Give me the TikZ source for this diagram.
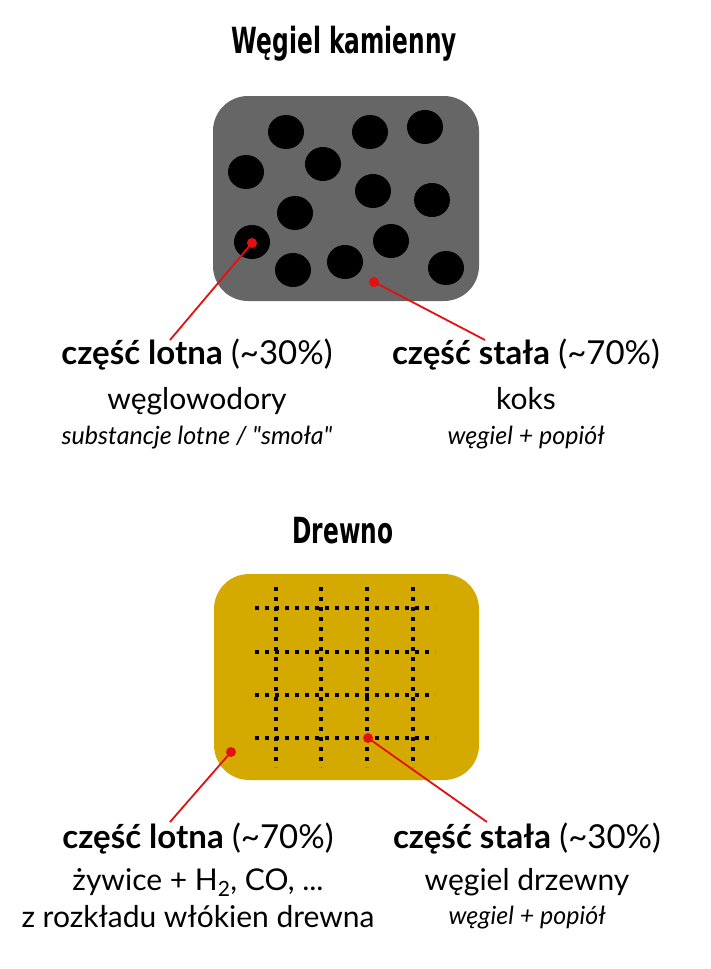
\documentclass[tikz,border=0pt]{standalone}
\usepackage{fontspec}
\setmainfont{Lato}
\newfontfamily\titlefont{DejaVu Sans Condensed}[FakeStretch=0.72]
\definecolor{coalgray}{HTML}{666666}
\definecolor{woodgold}{HTML}{D4AA00}
\definecolor{pointred}{HTML}{E41010}
\begin{document}
\begin{tikzpicture}[x=1pt,y=-1pt,
		title/.style={anchor=base,inner sep=0pt,font=\titlefont\bfseries\fontsize{36}{36}\selectfont},
		part/.style={anchor=base,inner sep=0pt,font=\fontsize{33}{33}\selectfont},
		desc/.style={anchor=base,inner sep=0pt,font=\fontsize{30}{30}\selectfont},
		note/.style={anchor=base,inner sep=0pt,font=\itshape\fontsize{25}{25}\selectfont},
		marker/.style={circle,fill=pointred,inner sep=0pt,minimum size=10pt},
		pointer/.style={pointred,line width=1.8pt},
		fibre/.style={line width=4pt,dash pattern=on 4pt off 6pt}]
		\useasboundingbox (0,0) rectangle (711,969);
	
		% wegiel kamienny
		\node[title] (coaltitle) at (344,53) {Węgiel kamienny};
		\fill[coalgray,rounded corners=35pt] (213,96) rectangle (479,301);
		\foreach \x/\y in {286/132,370/132,425/127,246/172,323/164,373/191,432/200,295/213,252/242,391/241,293/270,345/262,446/268}
			\fill (\x,\y) ellipse (18 and 17);
		\node[marker] (coalvol) at (252,243) {};
		\node[marker] (coalfix) at (374,282) {};
		\coordinate (coalvolend) at (170,340);
		\coordinate (coalfixend) at (485,340);
		\draw[pointer] (coalvol.center) -- (coalvolend);
		\draw[pointer] (coalfix.center) -- (coalfixend);
		
		\node[part] (coalvol1) at (197,364) {\textbf{część lotna} (\textasciitilde30\%)};
		\node[desc] (coalvol2) at (197,409) {węglowodory};
		\node[note] (coalvol3) at (197,444) {substancje lotne / \textquotedbl smoła\textquotedbl};
		\node[part] (coalfix1) at (526,364) {\textbf{część stała} (\textasciitilde70\%)};
		\node[desc] (coalfix2) at (526,409) {koks};
		\node[note] (coalfix3) at (526,444) {węgiel + popiół};
		
		% drewno
		\node[title] (woodtitle) at (343,543) {Drewno};
		\fill[woodgold,rounded corners=35pt] (214,574) rectangle (479,780);
		\foreach \x in {276,321,367,413}
			\draw[fibre] (\x,587) -- (\x,767);
		\foreach \y in {608,652,695,738}
			\draw[fibre] (255,\y) -- (435,\y);
		\node[marker] (woodvol) at (231,752) {};
		\node[marker] (woodfix) at (368,738) {};
		\coordinate (woodvolend) at (170,822);
		\coordinate (woodfixend) at (487,822);
		\draw[pointer] (woodvol.center) -- (woodvolend);
		\draw[pointer] (woodfix.center) -- (woodfixend);
		
		\node[part] (woodvol1) at (198,848) {\textbf{część lotna} (\textasciitilde70\%)};
		\node[desc] (woodvol2) at (198,890) {żywice + H\textsubscript{2}, CO, ...};
		\node[desc] (woodvol3) at (198,927) {z rozkładu włókien drewna};
		\node[part] (woodfix1) at (527,848) {\textbf{część stała} (\textasciitilde30\%)};
		\node[desc] (woodfix2) at (527,890) {węgiel drzewny};
		\node[note] (woodfix3) at (527,924) {węgiel + popiół};
		\end{tikzpicture}
\end{document}
